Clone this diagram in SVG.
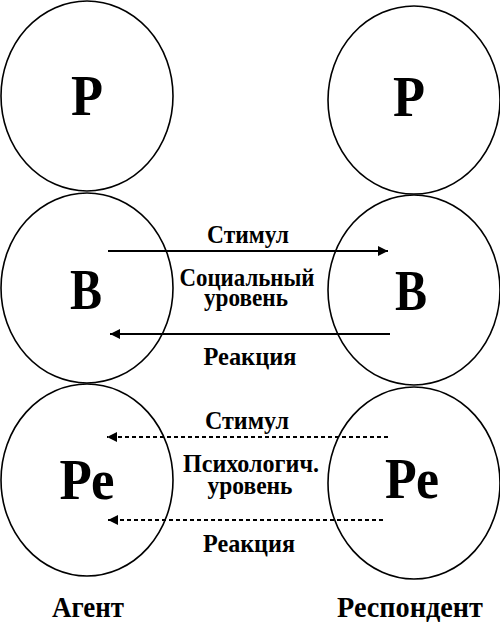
<svg xmlns="http://www.w3.org/2000/svg" width="500" height="622" viewBox="0 0 500 622">
<defs>
<style>
.c{fill:none;stroke:#000;stroke-width:1.6}
.big{font-family:"Liberation Serif","Times New Roman",serif;font-weight:bold;font-size:57px;text-anchor:middle;fill:#000}
.t{font-family:"Liberation Serif","Times New Roman",serif;font-weight:bold;font-size:26px;text-anchor:middle;fill:#000}
.f{font-family:"Liberation Serif","Times New Roman",serif;font-weight:bold;font-size:29px;text-anchor:middle;fill:#000}
.s{stroke:#000;stroke-width:2;fill:none}
.d{stroke:#000;stroke-width:1.8;fill:none;stroke-dasharray:4 3}
</style>
<marker id="ah" viewBox="0 0 10 10" refX="10" refY="5" markerWidth="10" markerHeight="10" markerUnits="userSpaceOnUse" orient="auto">
<path d="M0,0 L10,5 L0,10 Z" fill="#000"/>
</marker>
</defs>
<rect width="500" height="622" fill="#fff"/>
<g id="agent-P"><ellipse class="c" cx="87" cy="96" rx="86" ry="95"/><text class="big" x="87" y="115" textLength="32" lengthAdjust="spacingAndGlyphs">Р</text></g>
<g id="resp-P"><ellipse class="c" cx="414" cy="100" rx="86" ry="94"/><text class="big" x="409" y="116" textLength="32" lengthAdjust="spacingAndGlyphs">Р</text></g>
<g id="agent-B"><ellipse class="c" cx="87" cy="288" rx="86" ry="95"/><text class="big" x="86" y="309" textLength="32" lengthAdjust="spacingAndGlyphs">В</text></g>
<g id="resp-B"><ellipse class="c" cx="414" cy="290" rx="86" ry="95"/><text class="big" x="411" y="310" textLength="32" lengthAdjust="spacingAndGlyphs">В</text></g>
<g id="agent-Pe"><ellipse class="c" cx="87" cy="480" rx="86" ry="96"/><text class="big" x="87" y="499" textLength="55" lengthAdjust="spacingAndGlyphs">Ре</text></g>
<g id="resp-Pe"><ellipse class="c" cx="414" cy="483" rx="86" ry="96"/><text class="big" x="412" y="498" textLength="54" lengthAdjust="spacingAndGlyphs">Ре</text></g>
<g id="connectors">
<line class="s" x1="108" y1="251" x2="388" y2="251" marker-end="url(#ah)"/>
<line class="s" x1="390" y1="334" x2="110" y2="334" marker-end="url(#ah)"/>
<line class="d" x1="388" y1="437" x2="107" y2="437" marker-end="url(#ah)"/>
<line class="d" x1="383" y1="520" x2="108" y2="520" marker-end="url(#ah)"/>
</g>
<g id="labels">
<text class="t" x="248" y="243" textLength="82" lengthAdjust="spacingAndGlyphs">Стимул</text>
<text class="t" x="247" y="286" textLength="135" lengthAdjust="spacingAndGlyphs">Социальный</text>
<text class="t" x="246" y="306" textLength="84" lengthAdjust="spacingAndGlyphs">уровень</text>
<text class="t" x="250" y="365" textLength="93" lengthAdjust="spacingAndGlyphs">Реакция</text>
<text class="t" x="247" y="429" textLength="84" lengthAdjust="spacingAndGlyphs">Стимул</text>
<text class="t" x="251" y="472" textLength="136" lengthAdjust="spacingAndGlyphs">Психологич.</text>
<text class="t" x="250" y="494" textLength="85" lengthAdjust="spacingAndGlyphs">уровень</text>
<text class="t" x="249" y="552" textLength="92" lengthAdjust="spacingAndGlyphs">Реакция</text>
<text class="f" x="88" y="617" textLength="72" lengthAdjust="spacingAndGlyphs">Агент</text>
<text class="f" x="410" y="617" textLength="146" lengthAdjust="spacingAndGlyphs">Респондент</text>
</g>
</svg>
